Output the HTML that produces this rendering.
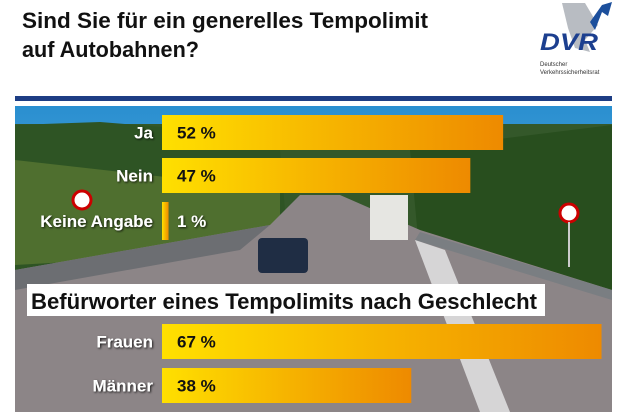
<!DOCTYPE html>
<html><head><meta charset="utf-8"><style>
html,body{margin:0;padding:0;background:#fff;}
svg{display:block;font-family:"Liberation Sans",sans-serif;}
</style></head><body>
<svg width="630" height="412" viewBox="0 0 630 412">
<defs>
<linearGradient id="bar" x1="0" x2="1" y1="0" y2="0"><stop offset="0" stop-color="#ffe000"/><stop offset="0.45" stop-color="#f7b800"/><stop offset="1" stop-color="#ee8a00"/></linearGradient>
<linearGradient id="sky" x1="0" x2="0" y1="0" y2="1"><stop offset="0" stop-color="#2a8fd0"/><stop offset="1" stop-color="#8cc6e8"/></linearGradient>
<filter id="sh"><feDropShadow dx="1" dy="1" stdDeviation="1" flood-color="#000" flood-opacity="0.8"/></filter>
</defs>
<text x="22" y="28" font-size="22" font-weight="bold" fill="#111" textLength="406" lengthAdjust="spacingAndGlyphs">Sind Sie für ein generelles Tempolimit</text>
<text x="22" y="57" font-size="22" font-weight="bold" fill="#111" textLength="177" lengthAdjust="spacingAndGlyphs">auf Autobahnen?</text>
<g>
<path d="M562 3 L585 3 L598 25 L585 40 L590 52 L575 48 L568 28 Z" fill="#b8bcc2"/>
<path d="M590 22 L602 5 L612 2 L608 16 L602 12 L595 30 Z" fill="#1c4f9c"/>
<text x="540" y="50" font-size="24" font-weight="bold" font-style="italic" fill="#1c3f8f" textLength="58" lengthAdjust="spacingAndGlyphs">DVR</text>
<text x="540" y="66" font-size="6" fill="#333">Deutscher</text>
<text x="540" y="74" font-size="6" fill="#333">Verkehrssicherheitsrat</text>
</g>
<rect x="15" y="96" width="597" height="5" fill="#1d3d84"/>
<g>
<rect x="15" y="106" width="597" height="306" fill="url(#sky)"/>
<rect x="15" y="124" width="597" height="150" fill="#34582a"/>
<path d="M15 125 L100 122 L200 130 L280 150 L290 270 L15 270 Z" fill="#2e5424"/>
<path d="M410 150 L612 125 L612 290 L420 260 Z" fill="#284e1e"/>
<path d="M15 160 L280 190 L280 250 L15 265 Z" fill="#6f8a3a" opacity="0.5"/>
<path d="M15 270 L270 225 L300 195 L340 195 L420 230 L612 290 L612 412 L15 412 Z" fill="#8c8587"/>
<path d="M15 270 L270 225 L240 250 L15 290 Z" fill="#6c6e72"/>
<path d="M420 232 L612 290 L612 300 L415 240 Z" fill="#7a7e82"/>
<path d="M415 240 L445 250 L510 412 L480 412 Z" fill="#e8e8ea" opacity="0.8"/>
<rect x="370" y="195" width="38" height="45" fill="#e6e6e2"/>
<rect x="258" y="238" width="50" height="35" rx="4" fill="#1f2d44"/>
<circle cx="82" cy="200" r="9" fill="#fff" stroke="#c00" stroke-width="3"/>
<circle cx="569" cy="213" r="9" fill="#fff" stroke="#c00" stroke-width="3"/>
<rect x="568" y="222" width="2" height="45" fill="#ccc"/>
</g>
<rect x="27" y="284" width="518" height="32" fill="#fff"/>
<text x="31" y="309" font-size="22" font-weight="bold" fill="#111" textLength="506" lengthAdjust="spacingAndGlyphs">Befürworter eines Tempolimits nach Geschlecht</text>
<g id="bars"></g>
<script>
const categories=["Ja","Nein","Keine Angabe","Frauen","Männer"];
const values=[52,47,1,67,38];
const valueLabels=["52 %","47 %","1 %","67 %","38 %"];
const rowTops=[115,158,202,324,368];
const x0=162, pxPer=6.56;
function xScale(v){return x0+v*pxPer;}
const g=document.getElementById('bars');
const ns="http://www.w3.org/2000/svg";
categories.forEach((c,i)=>{
  const y=rowTops[i], h=(i===2?38:35);
  const r=document.createElementNS(ns,'rect');
  r.setAttribute('x',x0);r.setAttribute('y',y);
  r.setAttribute('width',xScale(values[i])-x0);r.setAttribute('height',h);
  r.setAttribute('fill','url(#bar)');
  
  
  g.appendChild(r);
  const l=document.createElementNS(ns,'text');
  l.setAttribute('x',153);l.setAttribute('y',y+h/2+6);
  l.setAttribute('text-anchor','end');l.setAttribute('font-size','17');
  l.setAttribute('font-weight','bold');l.setAttribute('fill','#fff');
  l.setAttribute('filter','url(#sh)');
  l.textContent=c;
  
  
  g.appendChild(l);
  const t=document.createElementNS(ns,'text');
  t.setAttribute('x',177);t.setAttribute('y',y+h/2+6);
  t.setAttribute('font-size','17');t.setAttribute('font-weight','bold');
  t.setAttribute('fill',i===2?'#fff':'#111');
  if(i===2)t.setAttribute('filter','url(#sh)');
  t.textContent=valueLabels[i];
  
  
  g.appendChild(t);
});
</script>
</svg>
</body></html>
